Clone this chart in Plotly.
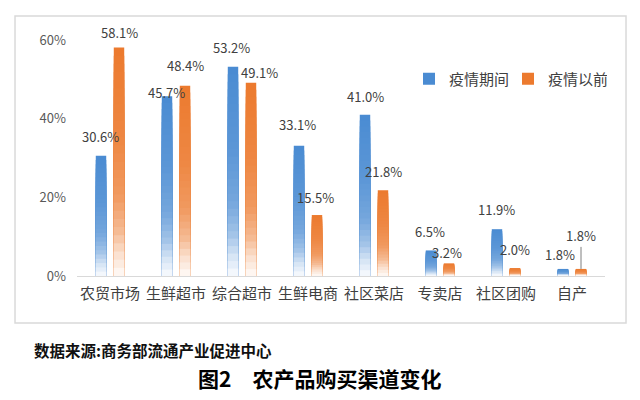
import plotly.graph_objects as go

categories = ["农贸市场", "生鲜超市", "综合超市", "生鲜电商", "社区菜店", "专卖店", "社区团购", "自产"]
during = [30.6, 45.7, 53.2, 33.1, 41.0, 6.5, 11.9, 1.8]
before = [58.1, 48.4, 49.1, 15.5, 21.8, 3.2, 2.0, 1.8]
series_names = ["疫情期间", "疫情以前"]
y_ticks = [0, 20, 40, 60]
y_tick_labels = ["0%", "20%", "40%", "60%"]
source_text = "数据来源:商务部流通产业促进中心"
caption_text = "图2\u2003农产品购买渠道变化"

# style
colors = ["#4a8bd2", "#ec7a2e"]
label_dx = [[-1, -1, -2, -2, 0, -1, -1, -3], [0, 0, 8, -2, 0, -2, 0, 0]]
label_dy = [[19, 4, 19, 21, 18, 19, 20, 14], [15, 20, 10, 18, 19, 11, 19, 0]]
bar_off = 9
N = 28
g_stops = [(0.0, 0.03), (0.1, 0.24), (0.2, 0.52), (0.35, 0.76), (0.6, 0.9), (1.0, 1.0)]


def gfun(t):
    for (t0, g0), (t1, g1) in zip(g_stops[:-1], g_stops[1:]):
        if t0 <= t <= t1:
            return g0 + (g1 - g0) * (t - t0) / (t1 - t0)
    return 1.0


def mix(hexc, g):
    r, gg, b = int(hexc[1:3], 16), int(hexc[3:5], 16), int(hexc[5:7], 16)
    f = lambda c: round(255 + (c - 255) * g)
    return f"rgb({f(r)},{f(gg)},{f(b)})"


fig = go.Figure()
for s, vals in enumerate([during, before]):
    for k in range(N):
        t_top = 1 - k / N
        t_bot = 1 - (k + 1) / N
        fig.add_trace(go.Bar(
            x=categories, y=[v * t_top for v in vals],
            name=series_names[s], legendgroup=series_names[s],
            showlegend=(k == 0), offsetgroup=str(s),
            marker=dict(color=colors[s] if k == 0 else mix(colors[s], gfun((t_top + t_bot) / 2)),
                        line=dict(width=0)),
            hoverinfo="skip",
        ))

annotations = []
for s, vals in enumerate([during, before]):
    for i, v in enumerate(vals):
        sign = -1 if s == 0 else 1
        a = dict(x=categories[i], y=v, text=f"{v:.1f}%",
                 xshift=sign * bar_off + label_dx[s][i], yshift=label_dy[s][i],
                 showarrow=False, yanchor="middle", xanchor="center",
                 font=dict(size=13, color="#404040", family="Noto Sans CJK SC"))
        if s == 1 and i == len(vals) - 1:
            a.update(showarrow=True, ax=0, ay=-33, arrowhead=0, arrowwidth=1,
                     arrowcolor="#7f7f7f", standoff=0, yshift=0)
        annotations.append(a)

annotations.append(dict(xref="paper", yref="paper", x=-0.0852, y=-0.3136, xanchor="left", yanchor="middle",
                        text="<b>" + source_text + "</b>", showarrow=False,
                        font=dict(size=15.5, color="#111111", family="Noto Sans CJK SC")))
annotations.append(dict(xref="paper", yref="paper", x=0.4602, y=-0.432, xanchor="center", yanchor="middle",
                        text="<b>" + caption_text + "</b>", showarrow=False,
                        font=dict(size=21, color="#000000", family="Noto Sans CJK SC")))

fig.update_layout(
    width=640, height=400,
    margin=dict(l=77, r=35, t=40, b=124),
    paper_bgcolor="white", plot_bgcolor="white",
    barmode="group", bargap=0.4545, bargroupgap=0.42,
    font=dict(family="Noto Sans CJK SC", color="#595959"),
    xaxis=dict(showline=True, linecolor="#d9d9d9", linewidth=1, showgrid=False,
               tickfont=dict(size=15, color="#404040"), ticks="", ticklabelstandoff=4),
    yaxis=dict(range=[0, 60], tickvals=y_ticks, ticktext=y_tick_labels, showgrid=False, zeroline=False,
               showline=False, tickfont=dict(size=13, color="#595959"), ticklabelstandoff=10),
    legend=dict(orientation="h", x=0.6288, y=0.835, xanchor="left", yanchor="middle",
                entrywidth=54, font=dict(size=15, color="#404040"), bgcolor="rgba(0,0,0,0)"),
    annotations=annotations,
    shapes=[dict(type="rect", xref="paper", yref="paper", x0=-0.1174, x1=1.0398, y0=-0.1992, y1=1.1017,
                 line=dict(color="#d9d9d9", width=1.5), fillcolor="rgba(0,0,0,0)", layer="below")],
)

fig.write_html("out.html")
